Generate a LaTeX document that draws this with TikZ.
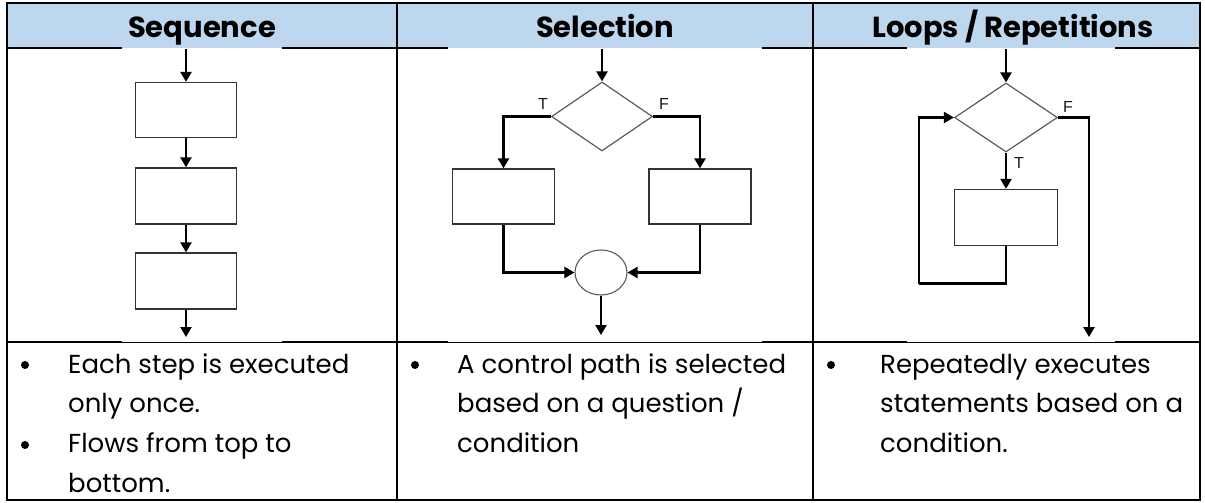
\documentclass[tikz,border=0pt]{standalone}
\usepackage{fontspec}
\setmainfont{Poppins}
\newfontfamily\labfont{Liberation Sans}
\usetikzlibrary{arrows.meta,shapes.geometric}
\definecolor{headblue}{HTML}{BDD7EE}
\definecolor{boxline}{HTML}{333333}
\definecolor{decline}{HTML}{5A5A5A}
\begin{document}
\begin{tikzpicture}[x=1pt,y=-1pt,
  flow/.style={line width=2.3pt,-{Triangle[width=11pt,length=10pt]}},
  link/.style={line width=2.3pt},
  stepbox/.style={draw=boxline,line width=1.3pt,minimum width=101pt,minimum height=55pt,inner sep=0pt},
  decision/.style={diamond,draw=decline,line width=1.2pt,minimum width=101pt,minimum height=69pt,inner sep=0pt},
  joint/.style={ellipse,draw=decline,line width=1.1pt,minimum width=52pt,minimum height=45pt,inner sep=0pt},
  tf/.style={font=\labfont\fontsize{16}{16}\selectfont,text=black!90,inner sep=0pt},
  head/.style={font=\bfseries\fontsize{29}{33}\selectfont,anchor=base,inner sep=0pt},
  body/.style={font=\fontsize{26}{30}\selectfont,anchor=base west,inner sep=0pt},
  bulletdot/.style={circle,fill=black,minimum size=8pt,inner sep=0pt},
  grid/.style={line width=1.5pt}]
\useasboundingbox (0,0) rectangle (1205,503);

% ---------- table ----------
\fill[headblue] (7,3) rectangle (1200,48);
\draw[grid] (7,48) -- (122,48) (282,48) -- (448,48) (762,48) -- (907,48) (1115,48) -- (1200,48);
\draw[line width=1pt] (7,342) -- (1200,342);
\draw[grid] (7,342) -- (122,342) (282,342) -- (448,342) (762,342) -- (907,342) (1115,342) -- (1200,342);
\draw[line width=2pt] (397,3) -- (397,500) (813,3) -- (813,500);
\draw[line width=2.5pt] (7,3) rectangle (1200,500);

\node[head] (h1) at (202,38) {Sequence};
\node[head] (h2) at (605,38) {Selection};
\node[head] (h3) at (1013,38) {Loops / Repetitions};

% ---------- sequence ----------
\coordinate (s0) at (186,49);
\node[stepbox] (b1) at (186,110) {};
\node[stepbox,minimum height=56pt] (b2) at (186,196) {};
\node[stepbox,minimum height=56pt] (b3) at (186,281) {};
\coordinate (s4) at (186,337);
\draw[flow] (s0) -- (b1.north);
\draw[flow] (b1.south) -- (b2.north);
\draw[flow] (b2.south) -- (b3.north);
\draw[flow] (b3.south) -- (s4);

% ---------- selection ----------
\coordinate (c0) at (602,49);
\node[decision] (d) at (602,116.5) {};
\node[stepbox,minimum width=102pt] (lb) at (503.5,196.5) {};
\node[stepbox,minimum width=102pt] (rb) at (700,196.5) {};
\node[joint] (j) at (601,272.5) {};
\coordinate (c5) at (601,335);
\draw[flow] (c0) -- (d.north);
\draw[flow] (d.west) -| (lb.north);
\draw[flow] (d.east) -| (rb.north);
\draw[flow] (lb.south) |- (j.west);
\draw[flow] (rb.south) |- (j.east);
\draw[flow] (j.south) -- (c5);
\node[tf] (dt) at (543,104) {T};
\node[tf] (df) at (664,104) {F};

% ---------- loop ----------
\coordinate (l0) at (1006,49);
\node[decision,minimum width=103pt] (ld) at (1006,117.5) {};
\node[stepbox,minimum width=103pt,minimum height=56pt] (lbx) at (1006,217.5) {};
\coordinate (lback) at (919,283.5);
\coordinate (lexit) at (1089,337);
\draw[flow] (l0) -- (ld.north);
\draw[flow] (ld.south) -- (lbx.north);
\draw[link] (lbx.south) |- (lback);
\draw[flow] (lback) |- (ld.west);
\draw[flow] (ld.east) -| (lexit);
\node[tf] (lf) at (1068,107) {F};
\node[tf] (lt) at (1019,163) {T};

% ---------- descriptions ----------
\node[bulletdot] (p1) at (25,365) {};
\node[body] (t11) at (68,373) {Each step is executed};
\node[body] (t12) at (68,412.7) {only once.};
\node[bulletdot] (p2) at (25,445) {};
\node[body] (t13) at (68,452.4) {Flows from top to};
\node[body] (t14) at (68,492) {bottom.};

\node[bulletdot] (p3) at (415,365) {};
\node[body] (t21) at (457,373) {A control path is selected};
\node[body] (t22) at (457,412.7) {based on a question /};
\node[body] (t23) at (457,452.4) {condition};

\node[bulletdot] (p4) at (831,365) {};
\node[body] (t31) at (880,373) {Repeatedly executes};
\node[body] (t32) at (880,412.7) {statements based on a};
\node[body] (t33) at (880,452.4) {condition.};
\end{tikzpicture}
\end{document}
